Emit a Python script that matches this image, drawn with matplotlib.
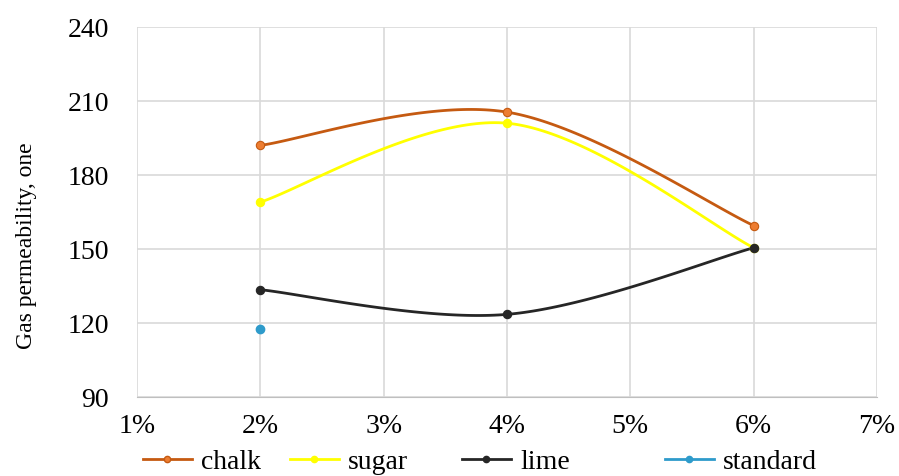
import numpy as np
import matplotlib
matplotlib.use("Agg")
import matplotlib.pyplot as plt
from matplotlib.ticker import FixedLocator, FuncFormatter
from matplotlib.lines import Line2D

x_cat = [2, 4, 6]                  # additive content, %
chalk = [192, 205.5, 159.5]
sugar = [169, 201, 150.5]
lime = [133.5, 123.5, 150.5]
standard_x = [2]
standard = [117.5]
x_ticks = [1, 2, 3, 4, 5, 6, 7]
y_ticks = [90, 120, 150, 180, 210, 240]
legend_names = ["chalk", "sugar", "lime", "standard"]


def smooth(xs, ys, n=60):
    # Catmull-Rom style Bezier smoothing (like spreadsheet "smoothed line")
    xs = np.asarray(xs, float); ys = np.asarray(ys, float)
    px = np.concatenate([[xs[0]], xs, [xs[-1]]])
    py = np.concatenate([[ys[0]], ys, [ys[-1]]])
    ox, oy = [], []
    for i in range(1, len(px) - 2):
        p0 = np.array([px[i - 1], py[i - 1]]); p1 = np.array([px[i], py[i]])
        p2 = np.array([px[i + 1], py[i + 1]]); p3 = np.array([px[i + 2], py[i + 2]])
        c1 = p1 + (p2 - p0) / 6.0
        c2 = p2 - (p3 - p1) / 6.0
        t = np.linspace(0, 1, n)[:, None]
        b = ((1 - t) ** 3) * p1 + 3 * ((1 - t) ** 2) * t * c1 + 3 * (1 - t) * t ** 2 * c2 + t ** 3 * p2
        ox.extend(b[:, 0]); oy.extend(b[:, 1])
    return np.array(ox), np.array(oy)


plt.rcParams['font.family'] = ['Liberation Serif', 'DejaVu Serif']

fig = plt.figure(figsize=(8.99, 4.76), dpi=100)
ax = fig.add_axes([137 / 899, 1 - 397 / 476, (877 - 137) / 899, (397 - 27) / 476])

series = [
    (chalk, "#C55A11", "#ED7D31"),
    (sugar, "#FFFF00", "#FFFF00"),
    (lime, "#262626", "#262626"),
]
handles = []
for ys, lc, mc in series:
    sx, sy = smooth(x_cat, ys)
    ax.plot(sx, sy, color=lc, lw=2.0, zorder=3, solid_capstyle='round')
    ax.plot(x_cat, ys, 'o', color=mc, ms=6, mec=lc, mew=0.8, zorder=4)
    handles.append(Line2D([], [], color=lc, lw=2.0, marker='o', ms=4.5, mfc=mc, mec=lc))

ax.plot(standard_x, standard, 'o', color="#2E9BCB", ms=6, zorder=4)
handles.append(Line2D([], [], color="#2E9BCB", lw=2.0, marker='o', ms=4.5))

ax.set_xlim(1, 7)
ax.set_ylim(90, 240)
ax.xaxis.set_major_locator(FixedLocator(x_ticks))
ax.yaxis.set_major_locator(FixedLocator(y_ticks))
ax.xaxis.set_major_formatter(FuncFormatter(lambda v, p: f"{int(round(v))}%"))
ax.grid(True, color="#D9D9D9", lw=1.2)
ax.set_axisbelow(True)
for s in ax.spines.values():
    s.set_visible(False)
ax.spines['bottom'].set_visible(True)
ax.spines['bottom'].set_color("#BFBFBF")
ax.tick_params(length=0, labelsize=20)
ax.tick_params(axis='x', pad=12)
ax.tick_params(axis='y', pad=20)

fig.text(27 / 899, 1 - 246 / 476, "Gas permeability, one", rotation=90,
         ha='center', va='center', fontsize=17)

# legend entries laid out as in the reference
leg_x = [143, 290, 462, 665]
for h, name, lx in zip(handles, legend_names, leg_x):
    lg = fig.legend([h], [name], loc='center left', bbox_to_anchor=(lx / 899, 1 - 462 / 476),
                    frameon=False, fontsize=20, handlelength=1.75, handletextpad=0.35,
                    borderpad=0, borderaxespad=0)

fig.savefig("out.png", dpi=100)
